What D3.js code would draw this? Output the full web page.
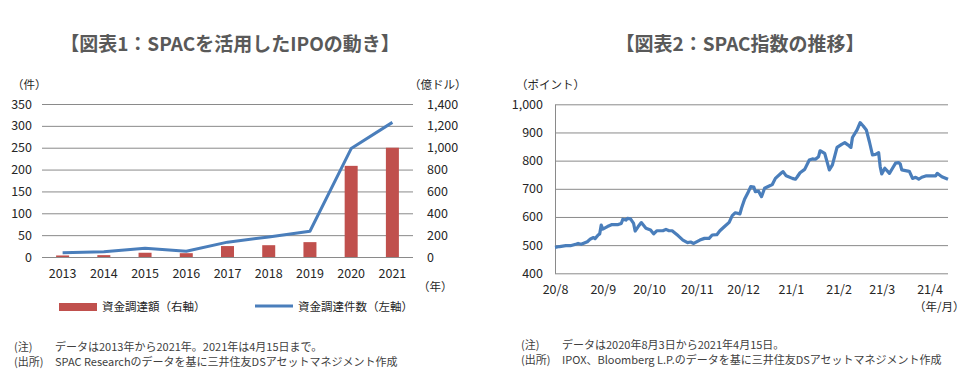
<!DOCTYPE html>
<html><head><meta charset="utf-8">
<script src="https://cdn.jsdelivr.net/npm/d3@7"></script>
<style>
body{margin:0;background:#fff}
svg{display:block}
text{font-family:"Noto Sans CJK JP","Noto Sans",sans-serif}
</style>
</head><body>
<svg id="c" width="977" height="379"></svg>
<script>
// ---------- Chart 1 data ----------
const years = ["2013","2014","2015","2016","2017","2018","2019","2020","2021"];
const ipoCount = [10,12,20,13,34,46,59,248,308];          // 件 (left axis)
const fundsRaised = [14,17,39,35,100,108,136,834,1000];   // 億ドル (right axis)
const leftTicks = [0,50,100,150,200,250,300,350];
const rightTicks = [0,200,400,600,800,1000,1200,1400];

// ---------- Chart 2 data ----------
const indexDates = ["2020-08-03","2020-08-06","2020-08-10","2020-08-13","2020-08-17","2020-08-18","2020-08-20","2020-08-24","2020-08-26","2020-08-28","2020-08-29","2020-08-31","2020-09-01","2020-09-02","2020-09-03","2020-09-06","2020-09-09","2020-09-13","2020-09-15","2020-09-16","2020-09-18","2020-09-19","2020-09-21","2020-09-23","2020-09-24","2020-09-26","2020-09-28","2020-10-01","2020-10-04","2020-10-06","2020-10-08","2020-10-12","2020-10-14","2020-10-16","2020-10-18","2020-10-22","2020-10-25","2020-10-28","2020-10-30","2020-11-01","2020-11-05","2020-11-08","2020-11-11","2020-11-13","2020-11-16","2020-11-18","2020-11-21","2020-11-24","2020-11-26","2020-11-28","2020-12-01","2020-12-02","2020-12-04","2020-12-06","2020-12-08","2020-12-10","2020-12-11","2020-12-13","2020-12-15","2020-12-17","2020-12-20","2020-12-22","2020-12-24","2020-12-28","2020-12-29","2020-12-31","2021-01-04","2021-01-06","2021-01-07","2021-01-09","2021-01-12","2021-01-15","2021-01-17","2021-01-19","2021-01-21","2021-01-22","2021-01-25","2021-01-28","2021-01-30","2021-02-02","2021-02-05","2021-02-07","2021-02-09","2021-02-11","2021-02-12","2021-02-15","2021-02-17","2021-02-19","2021-02-21","2021-02-23","2021-02-25","2021-02-27","2021-03-01","2021-03-02","2021-03-03","2021-03-05","2021-03-07","2021-03-08","2021-03-10","2021-03-12","2021-03-14","2021-03-15","2021-03-16","2021-03-20","2021-03-21","2021-03-23","2021-03-25","2021-03-27","2021-03-29","2021-04-01","2021-04-05","2021-04-07","2021-04-08","2021-04-11","2021-04-15"];
const indexValues = [492,495,498,498,504,506,503,512,522,527,523,536,540,571,557,566,573,573,577,592,589,595,593,577,550,566,580,560,554,540,551,551,556,551,551,533,518,509,511,506,518,524,524,536,537,551,566,581,605,615,611,631,663,684,708,706,690,692,672,702,710,715,737,757,761,746,737,734,741,757,769,802,806,805,814,835,826,767,785,847,858,864,856,847,882,909,935,923,909,867,820,822,828,779,753,773,761,755,773,791,793,788,767,763,761,737,741,734,741,746,746,746,755,743,734];
const indexTicks = [400,500,600,700,800,900,1000];
const monthTickDates = ["2020-08-03","2020-09-03","2020-10-03","2020-11-03","2020-12-03","2021-01-03","2021-02-03","2021-03-03","2021-04-03"];
const monthTickLabels = ["20/8","20/9","20/10","20/11","20/12","21/1","21/2","21/3","21/4"];

const svg = d3.select("#c");
svg.append("rect").attr("width",977).attr("height",379).attr("fill","#fff");
const gridColor = "#8a8a8a", textColor = "#262626", noteColor = "#404040";
const red = "#C0504D", blue = "#4A7EBB";

// ---------- Titles ----------
svg.append("text").attr("x",230).attr("y",51).attr("text-anchor","middle")
  .attr("font-size",19).attr("font-weight","bold").attr("fill","#595959")
  .text("【図表1：SPACを活用したIPOの動き】");
svg.append("text").attr("x",740).attr("y",51).attr("text-anchor","middle")
  .attr("font-size",19).attr("font-weight","bold").attr("fill","#595959")
  .text("【図表2：SPAC指数の推移】");

// ---------- Chart 1 ----------
const c1 = {l:42, r:413, t:104, b:257};
const x1 = d3.scaleBand().domain(years).range([c1.l,c1.r]);
const yL = d3.scaleLinear().domain([0,350]).range([c1.b,c1.t]);
const yR = d3.scaleLinear().domain([0,1400]).range([c1.b,c1.t]);

const gL = svg.append("g").attr("transform",`translate(${c1.l},0)`)
  .call(d3.axisLeft(yL).tickValues(leftTicks).tickSizeInner(-(c1.r-c1.l)).tickSizeOuter(0).tickPadding(10));
gL.select(".domain").remove();
gL.selectAll("line").attr("stroke",gridColor);
gL.selectAll("text").attr("font-size",12.5).attr("fill",textColor).attr("font-family","Noto Sans CJK JP");

const gR = svg.append("g").attr("transform",`translate(${c1.r},0)`)
  .call(d3.axisRight(yR).tickValues(rightTicks).tickSize(0).tickPadding(14).tickFormat(d3.format(",")));
gR.select(".domain").remove();
gR.selectAll("text").attr("font-size",12.5).attr("fill",textColor).attr("font-family","Noto Sans CJK JP");

const gX1 = svg.append("g").attr("transform",`translate(0,${c1.b})`)
  .call(d3.axisBottom(x1).tickSize(0).tickPadding(12));
gX1.select(".domain").remove();
gX1.selectAll("text").attr("font-size",12.5).attr("fill",textColor).attr("font-family","Noto Sans CJK JP");

const bw = 13;
svg.append("g").selectAll("rect").data(years).join("rect")
  .attr("x",(d)=>x1(d)+x1.bandwidth()/2-bw/2)
  .attr("width",bw)
  .attr("y",(d,i)=>yR(fundsRaised[i]))
  .attr("height",(d,i)=>yR(0)-yR(fundsRaised[i]))
  .attr("fill",red);

svg.append("path").datum(years)
  .attr("d",d3.line().x((d)=>x1(d)+x1.bandwidth()/2).y((d,i)=>yL(ipoCount[i])))
  .attr("fill","none").attr("stroke",blue).attr("stroke-width",3).attr("stroke-linejoin","round");

svg.append("text").attr("x",12).attr("y",89).attr("font-size",11.5).attr("fill",textColor).text("（件）");
svg.append("text").attr("x",409).attr("y",89).attr("font-size",11.5).attr("fill",textColor).text("（億ドル）");
svg.append("text").attr("x",418).attr("y",291).attr("font-size",11.5).attr("fill",textColor).text("（年）");

// legend
svg.append("rect").attr("x",59).attr("y",303).attr("width",38).attr("height",8).attr("fill",red);
svg.append("text").attr("x",102).attr("y",311).attr("font-size",11.5).attr("fill",textColor).text("資金調達額（右軸）");
svg.append("line").attr("x1",255).attr("x2",293).attr("y1",306).attr("y2",306).attr("stroke",blue).attr("stroke-width",3);
svg.append("text").attr("x",298).attr("y",311).attr("font-size",11.5).attr("fill",textColor).text("資金調達件数（左軸）");

// notes as single multi-line text blocks
function notes(x0, x1p, y0, lines){
  const t = svg.append("text").attr("font-size",11).attr("fill",noteColor);
  lines.forEach((ln,i)=>{
    t.append("tspan").attr("x",x0).attr("y",y0+i*14.5).text(ln[0]);
    t.append("tspan").attr("x",x1p).attr("y",y0+i*14.5).text(ln[1]);
  });
}
notes(14, 55, 351, [["(注)","データは2013年から2021年。2021年は4月15日まで。"],
                    ["(出所)","SPAC Researchのデータを基に三井住友DSアセットマネジメント作成"]]);

// ---------- Chart 2 ----------
const parse = d3.timeParse("%Y-%m-%d");
const c2 = {l:555, r:948, t:104.3, b:273.3};
const x2 = d3.scaleTime().domain([parse("2020-08-03"),parse("2021-04-15")]).range([c2.l,c2.r]);
const y2 = d3.scaleLinear().domain([400,1000]).range([c2.b,c2.t]);

const gY2 = svg.append("g").attr("transform",`translate(${c2.l},0)`)
  .call(d3.axisLeft(y2).tickValues(indexTicks).tickSizeInner(-(c2.r-c2.l)).tickSizeOuter(0).tickPadding(12).tickFormat(d3.format(",")));
gY2.select(".domain").attr("stroke",gridColor);
gY2.selectAll("line").attr("stroke",gridColor);
gY2.selectAll("text").attr("font-size",12.5).attr("fill",textColor).attr("font-family","Noto Sans CJK JP");

const gX2 = svg.append("g").attr("transform",`translate(0,${c2.b})`)
  .call(d3.axisBottom(x2).tickValues(monthTickDates.map(parse)).tickSize(0).tickPadding(12)
    .tickFormat((d,i)=>monthTickLabels[i]));
gX2.select(".domain").remove();
gX2.selectAll("text").attr("font-size",12.5).attr("fill",textColor).attr("font-family","Noto Sans CJK JP");

svg.append("path").datum(indexDates)
  .attr("d",d3.line().x((d)=>x2(parse(d))).y((d,i)=>y2(indexValues[i])))
  .attr("fill","none").attr("stroke",blue).attr("stroke-width",3.2).attr("stroke-linejoin","round");

svg.append("text").attr("x",516).attr("y",89).attr("font-size",11.5).attr("fill",textColor).text("（ポイント）");
svg.append("text").attr("x",914).attr("y",311).attr("font-size",11.5).attr("fill",textColor).text("（年/月）");

notes(521, 562, 349, [["(注)","データは2020年8月3日から2021年4月15日。"],
                      ["(出所)","IPOX、Bloomberg L.P.のデータを基に三井住友DSアセットマネジメント作成"]]);
</script>
</body></html>
